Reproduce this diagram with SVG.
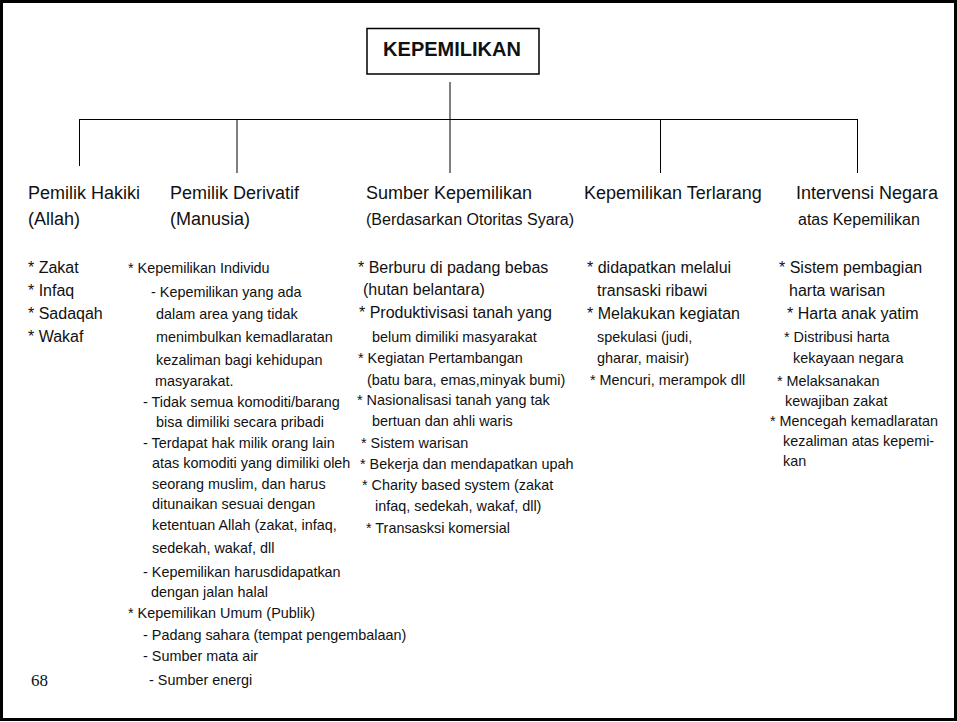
<svg xmlns="http://www.w3.org/2000/svg" width="957" height="722" viewBox="0 0 957 722">
<style>
text { font-family: "Liberation Sans", Arial, sans-serif; fill: #111; }
.title { font-size: 20px; font-weight: bold; text-anchor: middle; }
.h { font-size: 18px; }
.m { font-size: 16px; }
.s { font-size: 14.4px; }
.num { font-family: "Liberation Serif", "Times New Roman", serif; font-size: 17px; }
.ln { stroke: #000; stroke-width: 1; fill: none; }
</style>
<rect x="1.5" y="1.5" width="954" height="718" fill="#fff" stroke="#000" stroke-width="3"/>
<g id="root">
  <rect x="367" y="28.5" width="172" height="45.5" fill="#fff" stroke="#000" stroke-width="1.5"/>
  <text class="title" x="452" y="56">KEPEMILIKAN</text>
</g>
<g id="connectors">
  <line class="ln" x1="450" y1="82" x2="450" y2="119"/>
  <line class="ln" x1="79" y1="119.5" x2="858" y2="119.5" stroke-width="1.6"/>
  <line class="ln" x1="79.5" y1="119" x2="79.5" y2="166"/>
  <line class="ln" x1="237" y1="119" x2="237" y2="173"/>
  <line class="ln" x1="450" y1="119" x2="450" y2="173"/>
  <line class="ln" x1="660.5" y1="119" x2="660.5" y2="173"/>
  <line class="ln" x1="857.5" y1="119" x2="857.5" y2="173"/>
</g>
<g id="pemilik-hakiki">
  <text class="h" x="28" y="199">Pemilik Hakiki</text>
  <text class="h" x="28" y="225">(Allah)</text>
  <text class="m" x="28" y="273">* Zakat</text>
  <text class="m" x="28" y="296">* Infaq</text>
  <text class="m" x="28" y="319">* Sadaqah</text>
  <text class="m" x="28" y="342">* Wakaf</text>
</g>
<g id="pemilik-derivatif">
  <text class="h" x="170" y="199">Pemilik Derivatif</text>
  <text class="h" x="170" y="225">(Manusia)</text>
  <text class="s" x="128" y="273">* Kepemilikan Individu</text>
  <text class="s" x="151" y="297">- Kepemilikan yang ada</text>
  <text class="s" x="156" y="319">dalam area yang tidak</text>
  <text class="s" x="156" y="342">menimbulkan kemadlaratan</text>
  <text class="s" x="156" y="365">kezaliman bagi kehidupan</text>
  <text class="s" x="155" y="386">masyarakat.</text>
  <text class="s" x="143" y="407">- Tidak semua komoditi/barang</text>
  <text class="s" x="156" y="427">bisa dimiliki secara pribadi</text>
  <text class="s" x="143" y="448">- Terdapat hak milik orang lain</text>
  <text class="s" x="152" y="468">atas komoditi yang dimiliki oleh</text>
  <text class="s" x="152" y="489">seorang muslim, dan harus</text>
  <text class="s" x="152" y="509">ditunaikan sesuai dengan</text>
  <text class="s" x="152" y="530">ketentuan Allah (zakat, infaq,</text>
  <text class="s" x="152" y="553">sedekah, wakaf, dll</text>
  <text class="s" x="143" y="577">- Kepemilikan harusdidapatkan</text>
  <text class="s" x="151" y="597">dengan jalan halal</text>
  <text class="s" x="128" y="618">* Kepemilikan Umum (Publik)</text>
  <text class="s" x="143" y="640">- Padang sahara (tempat pengembalaan)</text>
  <text class="s" x="143" y="661">- Sumber mata air</text>
  <text class="s" x="149" y="685">- Sumber energi</text>
</g>
<g id="sumber-kepemilikan">
  <text class="h" x="366" y="199">Sumber Kepemilikan</text>
  <text class="m" x="366" y="225">(Berdasarkan Otoritas Syara)</text>
  <text class="m" x="358" y="273">* Berburu di padang bebas</text>
  <text class="m" x="363" y="295">(hutan belantara)</text>
  <text class="m" x="359" y="318">* Produktivisasi tanah yang</text>
  <text class="s" x="372" y="342">belum dimiliki masyarakat</text>
  <text class="s" x="358" y="363">* Kegiatan Pertambangan</text>
  <text class="s" x="367" y="385">(batu bara, emas,minyak bumi)</text>
  <text class="s" x="357" y="405">* Nasionalisasi tanah yang tak</text>
  <text class="s" x="372" y="426">bertuan dan ahli waris</text>
  <text class="s" x="361" y="448">* Sistem warisan</text>
  <text class="s" x="360" y="469">* Bekerja dan mendapatkan upah</text>
  <text class="s" x="362" y="490">* Charity based system (zakat</text>
  <text class="s" x="375" y="511">infaq, sedekah, wakaf, dll)</text>
  <text class="s" x="366" y="533">* Transasksi komersial</text>
</g>
<g id="kepemilikan-terlarang">
  <text class="h" x="584" y="199">Kepemilikan Terlarang</text>
  <text class="m" x="587" y="273">* didapatkan melalui</text>
  <text class="m" x="597" y="296">transaski ribawi</text>
  <text class="m" x="587" y="319">* Melakukan kegiatan</text>
  <text class="s" x="597" y="342">spekulasi (judi,</text>
  <text class="s" x="597" y="363">gharar, maisir)</text>
  <text class="s" x="590" y="385">* Mencuri, merampok dll</text>
</g>
<g id="intervensi-negara">
  <text class="h" x="796" y="199">Intervensi Negara</text>
  <text class="m" x="798" y="225">atas Kepemilikan</text>
  <text class="m" x="779" y="273">* Sistem pembagian</text>
  <text class="m" x="789" y="296">harta warisan</text>
  <text class="m" x="787" y="319">* Harta anak yatim</text>
  <text class="s" x="784" y="342">* Distribusi harta</text>
  <text class="s" x="793" y="363">kekayaan negara</text>
  <text class="s" x="777" y="386">* Melaksanakan</text>
  <text class="s" x="785" y="406">kewajiban zakat</text>
  <text class="s" x="770" y="426">* Mencegah kemadlaratan</text>
  <text class="s" x="783" y="446">kezaliman atas kepemi-</text>
  <text class="s" x="783" y="466">kan</text>
</g>
<text class="num" x="31" y="686">68</text>
</svg>
